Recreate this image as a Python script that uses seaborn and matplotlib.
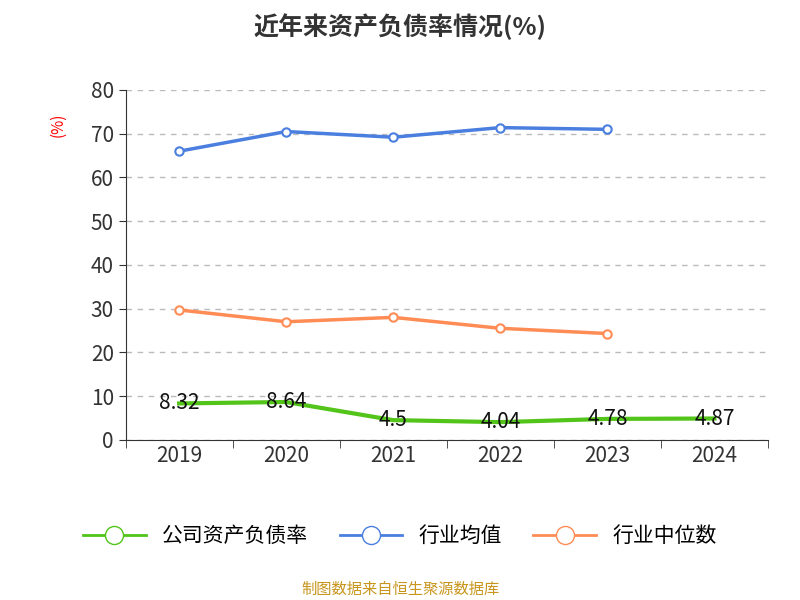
import matplotlib
matplotlib.use("Agg")
import matplotlib.pyplot as plt
from matplotlib import font_manager as fm
import seaborn as sns
import pandas as pd
from matplotlib.lines import Line2D

cjk = None
for f in fm.findSystemFonts():
    if "CJK" in f or "cjk" in f.lower():
        try:
            fm.fontManager.addfont(f)
            name = fm.FontProperties(fname=f).get_name()
            if cjk is None or "SC" in name:
                cjk = name
        except Exception:
            pass
plt.rcParams["font.family"] = [cjk or "Noto Sans CJK SC", "Noto Sans CJK JP", "DejaVu Sans"]

years = ["2019", "2020", "2021", "2022", "2023", "2024"]
company = [8.32, 8.64, 4.5, 4.04, 4.78, 4.87]
ind_avg = [66.0, 70.5, 69.2, 71.4, 71.0, None]
ind_med = [29.7, 27.0, 28.0, 25.5, 24.3, None]

df = pd.DataFrame({"x": range(len(years)), "company": company,
                   "avg": ind_avg, "med": ind_med})

fig = plt.figure(figsize=(8, 6), dpi=100)
ax = fig.add_axes([0.157, 0.267, 0.803, 0.583])

green, blue, orange = "#52c41a", "#4a7fe0", "#ff8c55"
sns.lineplot(data=df, x="x", y="company", ax=ax, color=green, lw=3)
sns.lineplot(data=df.dropna(), x="x", y="avg", ax=ax, color=blue, lw=2.5,
             marker="o", markersize=6, markerfacecolor="white",
             markeredgecolor=blue, markeredgewidth=1.5)
sns.lineplot(data=df.dropna(), x="x", y="med", ax=ax, color=orange, lw=2.5,
             marker="o", markersize=6, markerfacecolor="white",
             markeredgecolor=orange, markeredgewidth=1.5)
for i, v in enumerate(company):
    ax.text(i, v, f"{v:g}", ha="center", va="center", fontsize=15, color="#111")

ax.set_xlim(-0.5, 5.5)
ax.set_ylim(0, 80)
ax.set_yticks(range(0, 81, 10))
ax.set_xticks(range(6))
ax.set_xticklabels(years)
ax.tick_params(labelsize=15, colors="#333", length=5)
ax.set_xlabel("")
ax.set_ylabel("")
ax.grid(axis="y", ls=(0, (4, 4)), color="#bbbbbb", lw=1)
for s in ["top", "right"]:
    ax.spines[s].set_visible(False)
for s in ["left", "bottom"]:
    ax.spines[s].set_color("#333")
ax.set_xticks([i - 0.5 for i in range(7)], minor=True)
ax.tick_params(axis="x", which="major", length=0)
ax.tick_params(axis="x", which="minor", length=6, color="#333")
ax.text(-0.105, 0.9, "(%)", transform=ax.transAxes, color="red",
        rotation=90, fontsize=11, ha="center", va="center")

fig.text(0.5, 0.955, "近年来资产负债率情况(%)", ha="center", va="center",
         fontsize=18, fontweight="bold", color="#333")
handles = [Line2D([], [], color=c, lw=2, marker="o", markersize=13,
                  markerfacecolor="white", markeredgecolor=c)
           for c in (green, blue, orange)]
fig.legend(handles, ["公司资产负债率", "行业均值", "行业中位数"],
           loc="center", bbox_to_anchor=(0.5, 0.107), ncol=3, frameon=False,
           fontsize=15, handlelength=3, columnspacing=1.5)
fig.text(0.5, 0.018, "制图数据来自恒生聚源数据库", ha="center", va="center",
         fontsize=11, color="#c8961e")
fig.savefig("out.png")
